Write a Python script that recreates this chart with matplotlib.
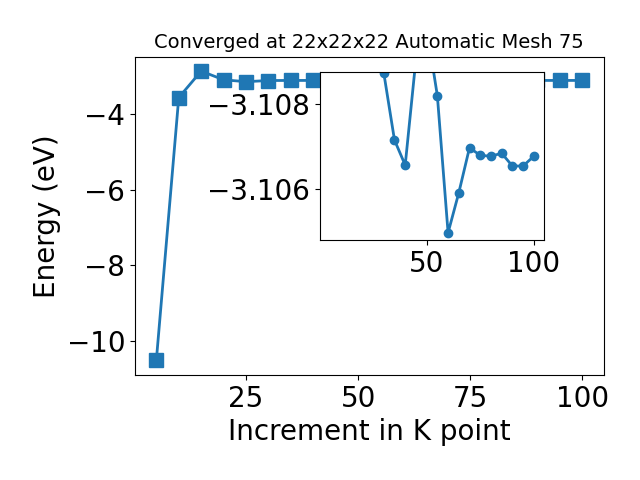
import numpy as np
import matplotlib
matplotlib.use('Agg')
import matplotlib.pyplot as plt

# k-point increments and total energies (eV)
kpoints = [5, 10, 15, 20, 25, 30, 35, 40, 45, 50,
           55, 60, 65, 70, 75, 80, 85, 90, 95, 100]
energy = [-10.51, -3.56, -2.86, -3.09, -3.14, -3.10873, -3.10715, -3.10656, -3.10905, -3.10980,
          -3.10819, -3.10497, -3.10591, -3.10697, -3.10679, -3.10677, -3.10684, -3.10654, -3.10654, -3.10677]

start = 5  # inset shows from 30 onwards

fig = plt.figure(figsize=(6.4, 4.8), dpi=100)
ax = fig.add_axes([0.211, 0.219, 0.732, 0.663])
ax.plot(kpoints, energy, marker='s', markersize=10, linewidth=2, color='#1f77b4')
ax.set_xticks([25, 50, 75, 100])
ax.set_yticks([-10, -8, -6, -4])
ax.tick_params(labelsize=20)
ax.set_xlabel('Increment in K point', fontsize=20)
ax.set_ylabel('Energy (eV)', fontsize=20)
ax.set_title('Converged at 22x22x22 Automatic Mesh 75', fontsize=14)

ins = fig.add_axes([0.5, 0.5, 0.35, 0.35])
ins.plot(kpoints[start:], energy[start:], marker='o', markersize=6, linewidth=2, color='#1f77b4')
ins.set_xlim(ax.get_xlim())
ins.set_ylim(-3.1048, -3.10875)
ins.set_xticks([50, 100])
ins.set_yticks([-3.108, -3.106])
ins.tick_params(labelsize=20)

fig.savefig('out.png', dpi=100)
